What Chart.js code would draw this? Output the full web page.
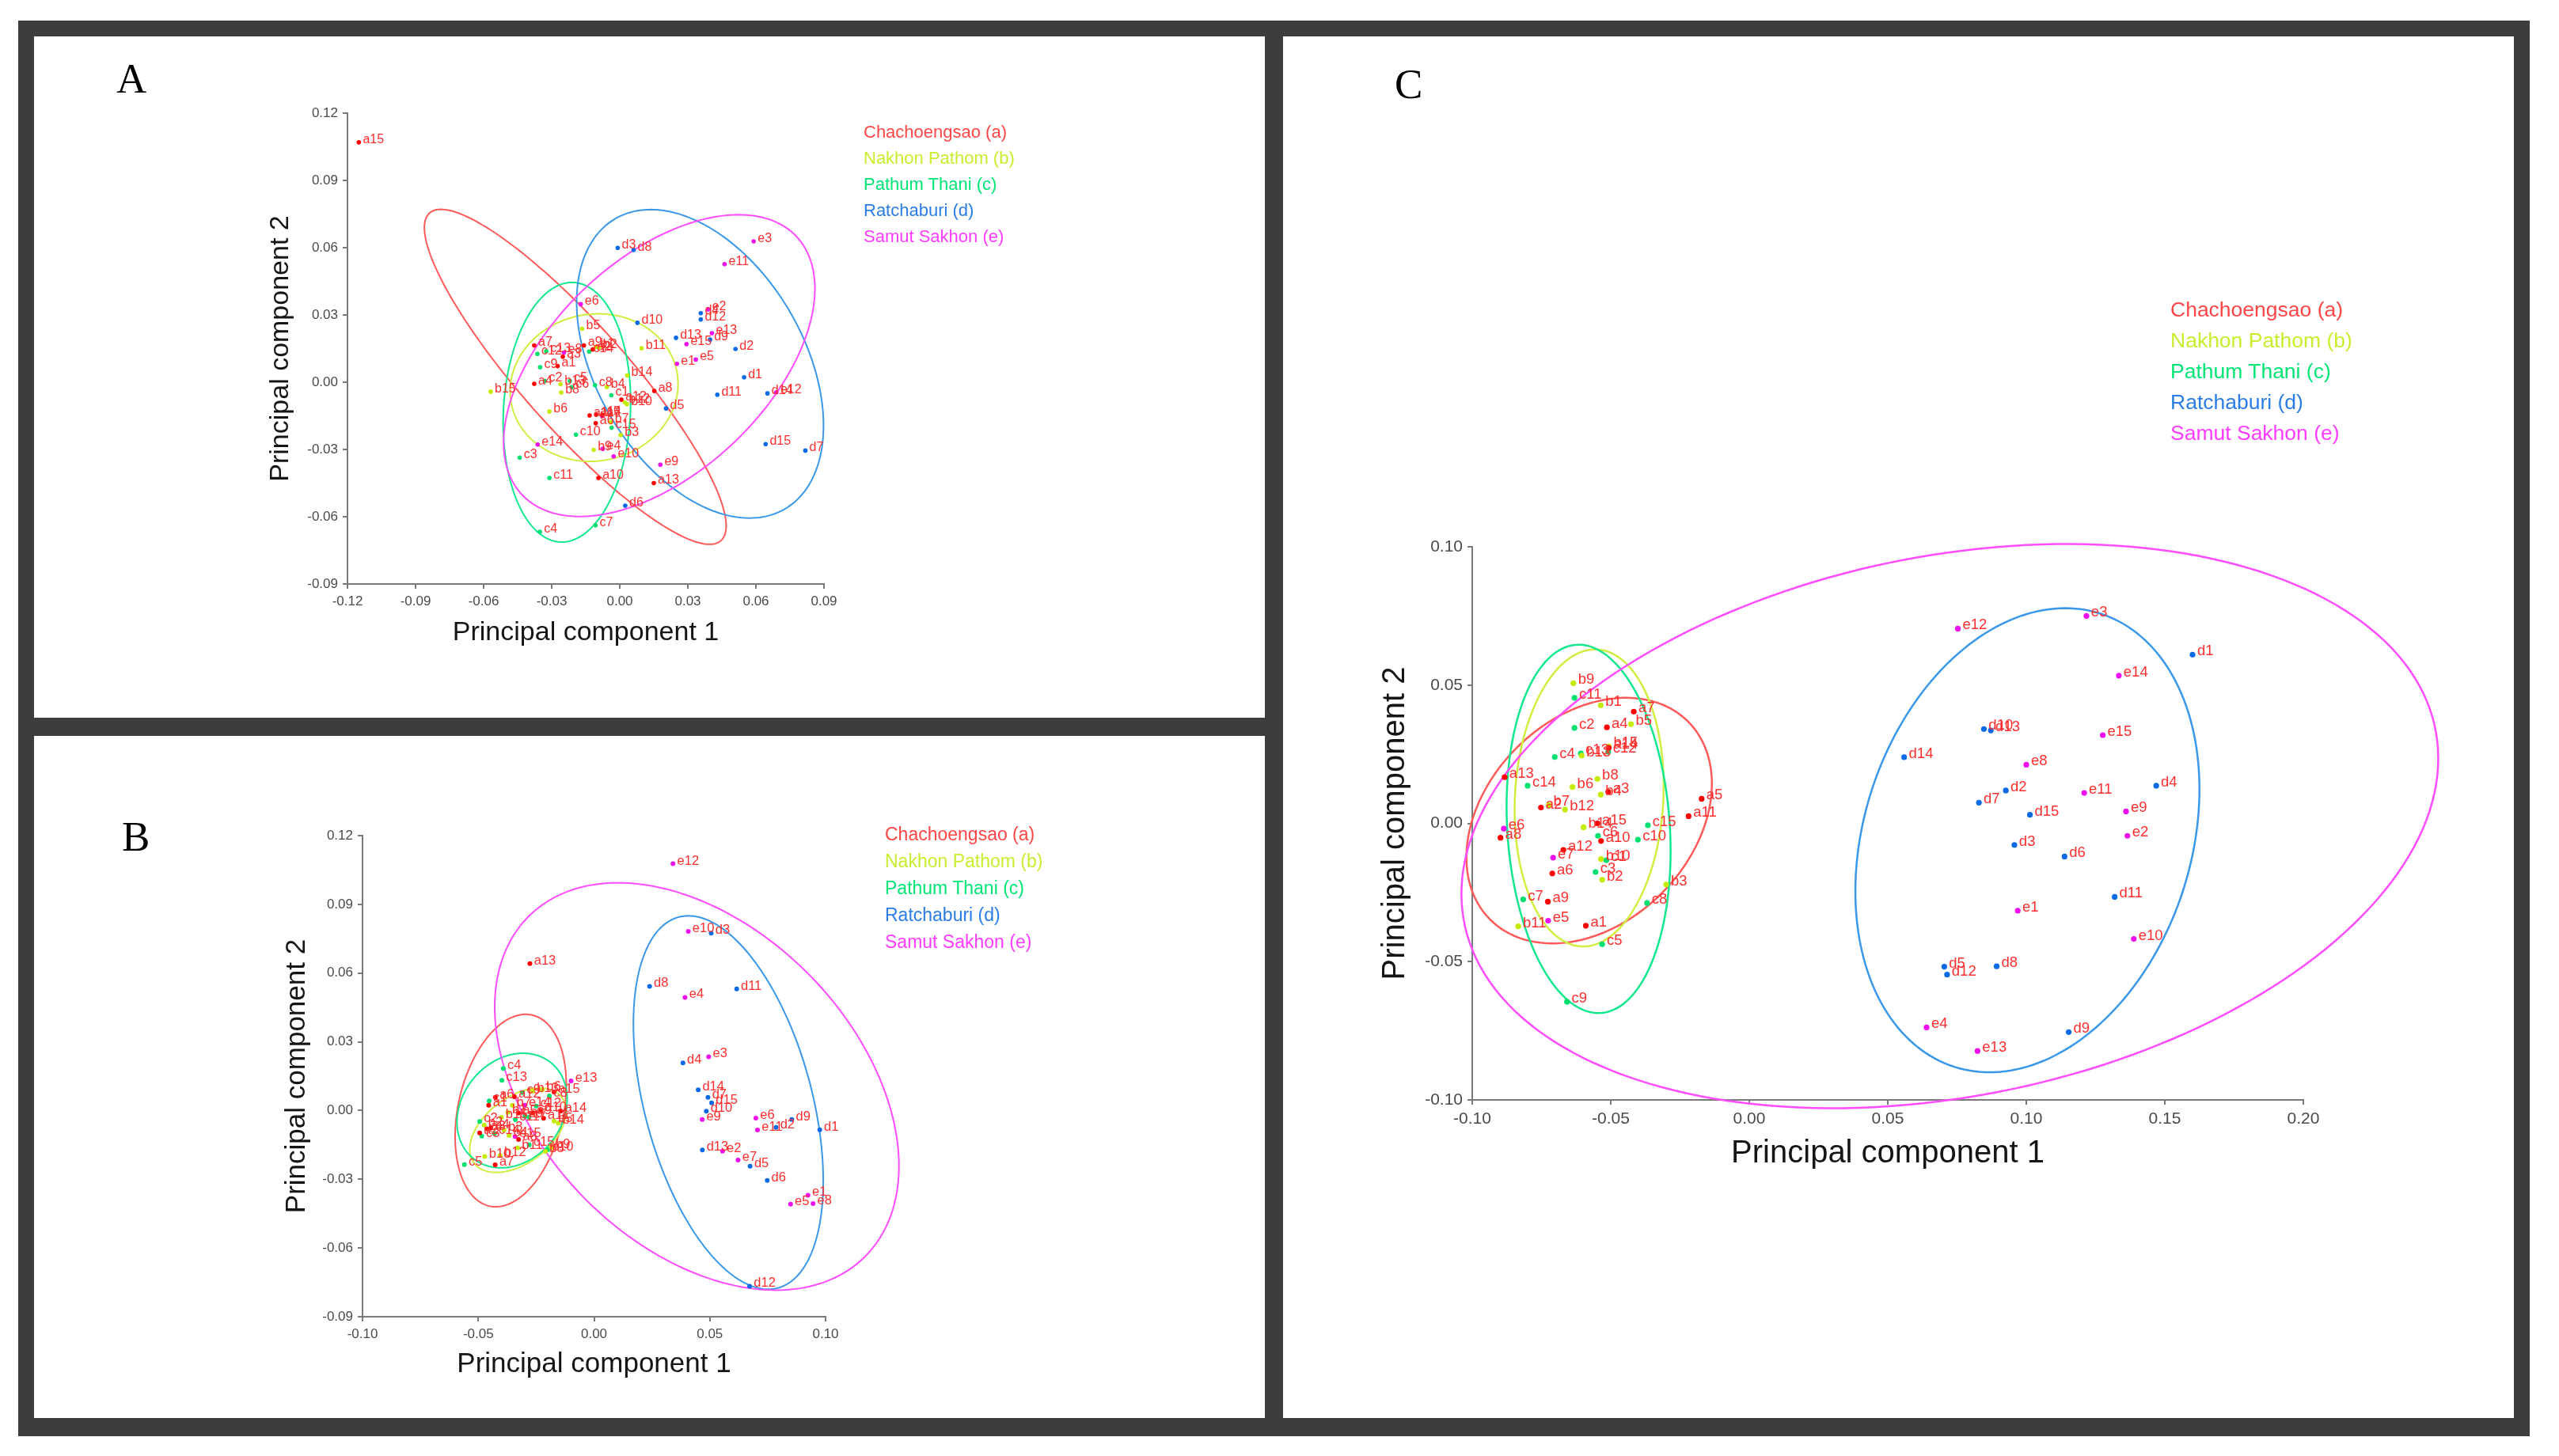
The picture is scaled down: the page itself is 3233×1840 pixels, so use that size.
<!DOCTYPE html>
<html>
<head>
<meta charset="utf-8">
<script src="https://cdn.jsdelivr.net/npm/chart.js@4"></script>
<style>
body { margin:0; width:3233px; height:1840px; background:#fff; position:relative; overflow:hidden; font-family:"Liberation Sans", Arial, sans-serif; }
.frame { position:absolute; left:23px; top:26px; width:3173px; height:1789px; background:#3d3d3d; }
.panel { position:absolute; background:#fff; }
.panel canvas { position:absolute; left:0; top:0; }
.letter { position:absolute; font-family:"Liberation Serif", "DejaVu Serif", serif; font-size:53px; line-height:53px; color:#000; }
.legend { position:absolute; white-space:nowrap; }
</style>
</head>
<body>
<div class="frame"></div>
<div class="panel" style="left:43px;top:46px;width:1555px;height:861px"><canvas id="chartA" width="1555" height="861"></canvas></div>
<div class="panel" style="left:43px;top:930px;width:1555px;height:862px"><canvas id="chartB" width="1555" height="862"></canvas></div>
<div class="panel" style="left:1621px;top:46px;width:1555px;height:1746px"><canvas id="chartC" width="1555" height="1746"></canvas></div>
<div class="letter" style="left:147px;top:73px">A</div>
<div class="letter" style="left:154px;top:1031px">B</div>
<div class="letter" style="left:1762px;top:80px">C</div>
<div class="legend" id="legA" style="left:1091px;top:150px;font-size:22px;line-height:33px"></div>
<div class="legend" id="legB" style="left:1118px;top:1037px;font-size:23px;line-height:34px"></div>
<div class="legend" id="legC" style="left:2742px;top:372px;font-size:26.5px;line-height:39px"></div>
<script>
// provinces (groups a..e)
const groups = ['Chachoengsao (a)', 'Nakhon Pathom (b)', 'Pathum Thani (c)', 'Ratchaburi (d)', 'Samut Sakhon (e)'];
const legendColors = ['#ff4646', '#c8ee30', '#00e676', '#2a7de6', '#ff3cff'];
const pointColors = ['#ff0000', '#c4ec00', '#00e070', '#0a6ae6', '#ee10ee'];
const ellipseColors = ['#ff5a5a', '#cff040', '#12e88e', '#3a98ea', '#ff4cff'];

// panel A  [PC1, PC2, name]
const A_a = [[-0.115,0.107,'a15'],[-0.0377,0.0164,'a7'],[-0.0251,0.0114,'a3'],[-0.0274,0.0072,'a1'],[-0.0377,-0.0007,'a4'],
  [-0.0158,0.0164,'a9'],[-0.0119,0.0146,'a2'],[0.0152,-0.0039,'a8'],[0.0007,-0.0078,'a12'],[-0.0133,-0.0148,'a11'],
  [-0.0104,-0.0145,'a14'],[-0.0077,-0.0145,'a5'],[-0.0106,-0.0183,'a6'],[-0.0094,-0.0427,'a10'],[0.015,-0.045,'a13']];
const A_b = [[-0.0166,0.0238,'b5'],[0.0096,0.0152,'b11'],[0.0033,0.0031,'b14'],[-0.0569,-0.0042,'b15'],[-0.0261,-0.0009,'b13'],
  [-0.0258,-0.0046,'b8'],[-0.031,-0.0131,'b6'],[0.0004,-0.0236,'b3'],[-0.0115,-0.0302,'b9'],[0.0032,-0.0098,'b10'],
  [-0.0057,-0.0021,'b4'],[-0.0104,0.0158,'b1'],[-0.0092,0.0154,'b2'],[0.0022,-0.009,'b12'],[-0.004,-0.0178,'b7']];
const A_c = [[-0.0441,-0.0336,'c3'],[-0.0352,-0.0667,'c4'],[-0.0107,-0.0638,'c7'],[-0.031,-0.0427,'c11'],[-0.0193,-0.0234,'c10'],
  [-0.0036,-0.0203,'c15'],[-0.0351,0.0067,'c9'],[-0.0363,0.0126,'c12'],[-0.0324,0.0138,'c13'],[-0.033,0.0005,'c2'],
  [-0.022,0.0005,'c5'],[-0.0212,-0.0022,'c6'],[-0.0109,-0.0013,'c8'],[-0.0037,-0.0058,'c1'],[-0.0135,0.0137,'c14']];
const A_d = [[-0.0009,0.0599,'d3'],[0.0061,0.059,'d8'],[0.0078,0.0265,'d10'],[0.0248,0.0198,'d13'],[0.0357,0.0308,'d4'],
  [0.0357,0.028,'d12'],[0.0398,0.019,'d9'],[0.051,0.0148,'d2'],[0.0548,0.0022,'d1'],[0.043,-0.0056,'d11'],
  [0.0204,-0.0117,'d5'],[0.0024,-0.0551,'d6'],[0.0643,-0.0276,'d15'],[0.0818,-0.0305,'d7'],[0.0651,-0.005,'d14']];
const A_e = [[0.059,0.0628,'e3'],[0.0462,0.0527,'e11'],[0.0389,0.0325,'e2'],[0.0406,0.0219,'e13'],[0.0294,0.017,'e15'],
  [0.0252,0.0082,'e1'],[0.0335,0.0101,'e5'],[-0.0172,0.0348,'e6'],[0.069,-0.0045,'e12'],[-0.0362,-0.0278,'e14'],
  [-0.0075,-0.0297,'e4'],[-0.0027,-0.0331,'e10'],[0.0179,-0.0368,'e9'],[-0.0246,0.0132,'e8'],[-0.0077,-0.0152,'e7']];
// confidence ellipses: [centre x, centre y, half width, half height, correlation]
const A_ell = [[-0.0196,0.0024,0.0665,0.0747,-0.89],[-0.0113,-0.0024,0.037,0.0329,0.05],[-0.0233,-0.0134,0.0281,0.0579,0.08],
  [0.0354,0.0082,0.0544,0.0688,-0.4],[0.0174,0.0074,0.0686,0.0673,0.51]];

// panel B
const B_a = [[-0.0277,0.0641,'a13'],[-0.0427,-0.0237,'a7'],[-0.0455,0.0023,'a1'],[-0.0426,0.0058,'a6'],[-0.0494,-0.0098,'a2'],
  [-0.0463,-0.008,'a3'],[-0.0446,-0.0075,'a4'],[-0.0326,-0.0011,'a5'],[-0.0326,-0.0126,'a8'],[-0.0264,-0.0011,'a9'],
  [-0.023,0.0,'a10'],[-0.0218,-0.0034,'a11'],[-0.0144,-0.0002,'a14'],[-0.0173,0.0081,'a15'],[-0.0344,0.006,'a12']];
const B_b = [[-0.0372,-0.0008,'b1'],[-0.0475,-0.0063,'b2'],[-0.0389,-0.0086,'b3'],[-0.0367,-0.0109,'b4'],[-0.0173,-0.0046,'b5'],
  [-0.0224,0.009,'b6'],[-0.0353,0.0023,'b7'],[-0.021,-0.0178,'b8'],[-0.0184,-0.0161,'b9'],[-0.0472,-0.0201,'b10'],
  [-0.033,-0.0163,'b11'],[-0.0406,-0.0196,'b12'],[-0.0265,0.0085,'b13'],[-0.0155,-0.0055,'b14'],[-0.04,-0.003,'b15']];
const B_c = [[-0.0392,0.0184,'c4'],[-0.0398,0.0132,'c13'],[-0.0453,0.0042,'c1'],[-0.0494,-0.0048,'c2'],[-0.0485,-0.0112,'c3'],
  [-0.0298,-0.0025,'c6'],[-0.0281,-0.0029,'c7'],[-0.0193,0.0064,'c8'],[-0.0309,0.0078,'c9'],[-0.0198,-0.017,'c10'],
  [-0.056,-0.0236,'c5'],[-0.034,-0.004,'c11'],[-0.025,0.002,'c12'],[-0.043,-0.01,'c14'],[-0.028,-0.015,'c15']];
const B_d = [[0.0506,0.0774,'d3'],[0.024,0.0542,'d8'],[0.0616,0.0531,'d11'],[0.0384,0.0208,'d4'],[0.045,0.009,'d14'],
  [0.0492,0.0058,'d7'],[0.0508,0.0033,'d15'],[0.0485,-0.0003,'d10'],[0.0854,-0.0039,'d9'],[0.0786,-0.0074,'d2'],
  [0.0975,-0.0084,'d1'],[0.0468,-0.0172,'d13'],[0.0674,-0.0243,'d5'],[0.0748,-0.0305,'d6'],[0.0672,-0.0767,'d12']];
const B_e = [[0.0341,0.1077,'e12'],[0.0407,0.0782,'e10'],[0.0393,0.0494,'e4'],[-0.0099,0.0129,'e13'],[0.0495,0.0235,'e3'],
  [0.0467,-0.0039,'e9'],[0.0699,-0.0033,'e6'],[0.0706,-0.0085,'e11'],[0.0555,-0.0177,'e2'],[0.0622,-0.0216,'e7'],
  [0.0849,-0.0409,'e5'],[0.0924,-0.037,'e1'],[0.0946,-0.0406,'e8'],[-0.03,0.0023,'e14'],[-0.0341,-0.0113,'e15']];
const B_ell = [[-0.036,0.0,0.024,0.042,0.27],[-0.0329,-0.0086,0.0208,0.0184,0.45],[-0.0354,0.0,0.0238,0.025,0.2],
  [0.058,0.0035,0.041,0.0815,-0.42],[0.0444,0.0105,0.0873,0.0889,-0.39]];

// panel C
const C_a = [[-0.0417,0.0404,'a7'],[-0.0514,0.0347,'a4'],[-0.0507,0.0273,'a14'],[-0.0883,0.0167,'a13'],[-0.0509,0.0114,'a3'],
  [-0.0752,0.0057,'a2'],[-0.0172,0.0089,'a5'],[-0.0219,0.0026,'a11'],[-0.0548,0.0,'a15'],[-0.0535,-0.0064,'a10'],
  [-0.0671,-0.0096,'a12'],[-0.0711,-0.0181,'a6'],[-0.0727,-0.0283,'a9'],[-0.059,-0.037,'a1'],[-0.0898,-0.0052,'a8']];
const C_b = [[-0.0635,0.0507,'b9'],[-0.0536,0.0427,'b1'],[-0.0427,0.0359,'b5'],[-0.0507,0.0278,'b15'],[-0.0605,0.0245,'b13'],
  [-0.0548,0.0161,'b8'],[-0.0638,0.0131,'b6'],[-0.0536,0.0104,'b4'],[-0.0724,0.0066,'b7'],[-0.0665,0.005,'b12'],
  [-0.0598,-0.0014,'b14'],[-0.0535,-0.0129,'b10'],[-0.0531,-0.0204,'b2'],[-0.03,-0.0221,'b3'],[-0.0834,-0.0372,'b11']];
const C_c = [[-0.0631,0.0454,'c11'],[-0.0631,0.0345,'c2'],[-0.0702,0.024,'c4'],[-0.0608,0.0253,'c13'],[-0.0509,0.0259,'c12'],
  [-0.08,0.0136,'c14'],[-0.0366,-0.0007,'c15'],[-0.0546,-0.0045,'c6'],[-0.0402,-0.0059,'c10'],[-0.0516,-0.0133,'c1'],
  [-0.0555,-0.0176,'c3'],[-0.0816,-0.0275,'c7'],[-0.0369,-0.0288,'c8'],[-0.0531,-0.0437,'c5'],[-0.0658,-0.0645,'c9']];
const C_d = [[0.16,0.061,'d1'],[0.0847,0.0341,'d10'],[0.0872,0.0336,'d13'],[0.0559,0.0239,'d14'],[0.0926,0.0119,'d2'],
  [0.0829,0.0075,'d7'],[0.1013,0.0031,'d15'],[0.0957,-0.0078,'d3'],[0.1138,-0.012,'d6'],[0.1469,0.0136,'d4'],
  [0.1319,-0.0266,'d11'],[0.0704,-0.0518,'d5'],[0.0714,-0.0547,'d12'],[0.0893,-0.0517,'d8'],[0.1153,-0.0755,'d9']];
const C_e = [[0.1217,0.075,'e3'],[0.0753,0.0704,'e12'],[0.1334,0.0534,'e14'],[0.1276,0.0319,'e15'],[0.1,0.0212,'e8'],
  [0.1209,0.011,'e11'],[0.136,0.0043,'e9'],[0.1365,-0.0045,'e2'],[0.0969,-0.0316,'e1'],[0.1388,-0.0418,'e10'],
  [0.064,-0.0738,'e4'],[0.0824,-0.0823,'e13'],[-0.0886,-0.0019,'e6'],[-0.0708,-0.0124,'e7'],[-0.0726,-0.0352,'e5']];
const C_ell = [[-0.0578,0.001,0.0443,0.0444,0.3],[-0.0578,0.0092,0.0269,0.0537,0.08],[-0.058,-0.002,0.0296,0.0666,-0.12],
  [0.1004,-0.0061,0.0621,0.0839,0.22],[0.0724,-0.001,0.1763,0.102,0.24]];

const axisTitleX = 'Principal component 1';
const axisTitleY = 'Principal component 2';

Chart.defaults.font.family = '"Liberation Sans", Arial, sans-serif';

function fillLegend(id) {
  const el = document.getElementById(id);
  groups.forEach((g, i) => {
    const d = document.createElement('div');
    d.textContent = g;
    d.style.color = legendColors[i];
    el.appendChild(d);
  });
}
fillLegend('legA'); fillLegend('legB'); fillLegend('legC');

// ellipse outline through the chart scales
function ellipsePlugin(list, lw) {
  return {
    id: 'ellipses',
    beforeDatasetsDraw(chart) {
      const ctx = chart.ctx, xs = chart.scales.x, ys = chart.scales.y;
      ctx.save();
      ctx.lineWidth = lw;
      list.forEach((e, i) => {
        const [cx, cy, sx, sy, r] = e;
        const k = Math.sqrt(1 - r * r);
        ctx.beginPath();
        for (let s = 0; s <= 200; s++) {
          const t = s / 200 * Math.PI * 2;
          const px = xs.getPixelForValue(cx + sx * Math.cos(t));
          const py = ys.getPixelForValue(cy + sy * (r * Math.cos(t) + k * Math.sin(t)));
          if (s === 0) ctx.moveTo(px, py); else ctx.lineTo(px, py);
        }
        ctx.closePath();
        ctx.strokeStyle = ellipseColors[i];
        ctx.stroke();
      });
      ctx.restore();
    }
  };
}

// sample names next to the points
function namePlugin(size) {
  return {
    id: 'names',
    afterDatasetsDraw(chart) {
      const ctx = chart.ctx;
      ctx.save();
      ctx.font = size + 'px "Liberation Sans", Arial, sans-serif';
      ctx.fillStyle = '#ff2e2e';
      ctx.textBaseline = 'middle';
      chart.data.datasets.forEach((ds, i) => {
        chart.getDatasetMeta(i).data.forEach((pt, j) => {
          ctx.fillText(ds.data[j].n, pt.x + size * 0.32, pt.y - size * 0.22);
        });
      });
      ctx.restore();
    }
  };
}

function fmt(v) {
  if (Math.abs(v) < 1e-9) return '0.00';
  return v.toFixed(2);
}

function axis(range, tickSize, titleText, titleSize, fitFn) {
  return {
    type: 'linear',
    min: range[0], max: range[1],
    ticks: { stepSize: range[2], callback: fmt, color: '#4a4a4a', padding: 6, font: { size: tickSize } },
    grid: { drawOnChartArea: false, drawTicks: true, tickLength: 6, color: '#7a7a7a', lineWidth: 2 },
    border: { display: true, color: '#7a7a7a', width: 2 },
    title: { display: true, text: titleText, color: '#151515', padding: 0, font: { size: titleSize } },
    afterFit: fitFn
  };
}

function makeChart(id, sets, ell, c) {
  const datasets = sets.map((s, i) => ({
    label: groups[i],
    data: s.map(p => ({ x: p[0], y: p[1], n: p[2] })),
    backgroundColor: pointColors[i],
    borderWidth: 0,
    pointRadius: c.dot
  }));
  return new Chart(document.getElementById(id), {
    type: 'scatter',
    data: { datasets: datasets },
    options: {
      responsive: false,
      animation: false,
      devicePixelRatio: 1,
      events: [],
      layout: { padding: c.pad },
      plugins: { legend: { display: false }, tooltip: { enabled: false } },
      scales: {
        x: axis(c.xr, c.tick, axisTitleX, c.title, s => { s.height = c.xH; }),
        y: axis(c.yr, c.tick, axisTitleY, c.title, s => { s.width = c.yW; })
      }
    },
    plugins: [ellipsePlugin(ell, c.lw), namePlugin(c.label)]
  });
}

makeChart('chartA', [A_a, A_b, A_c, A_d, A_e], A_ell, {
  xr: [-0.12, 0.09, 0.03], yr: [-0.09, 0.12, 0.03],
  pad: { left: 291.6, top: 97, right: 557, bottom: 86.6 }, yW: 104.4, xH: 82.4,
  tick: 17, title: 34, label: 16, dot: 2.8, lw: 2
});
makeChart('chartB', [B_a, B_b, B_c, B_d, B_e], B_ell, {
  xr: [-0.10, 0.10, 0.05], yr: [-0.09, 0.12, 0.03],
  pad: { left: 311, top: 126, right: 555, bottom: 47 }, yW: 104, xH: 81,
  tick: 17, title: 35, label: 16.5, dot: 3, lw: 2
});
makeChart('chartC', [C_a, C_b, C_c, C_d, C_e], C_ell, {
  xr: [-0.10, 0.20, 0.05], yr: [-0.10, 0.10, 0.05],
  pad: { left: 118, top: 645, right: 266, bottom: 310 }, yW: 121, xH: 92,
  tick: 21, title: 40, label: 18.5, dot: 3.6, lw: 2.5
});
</script>
</body>
</html>
